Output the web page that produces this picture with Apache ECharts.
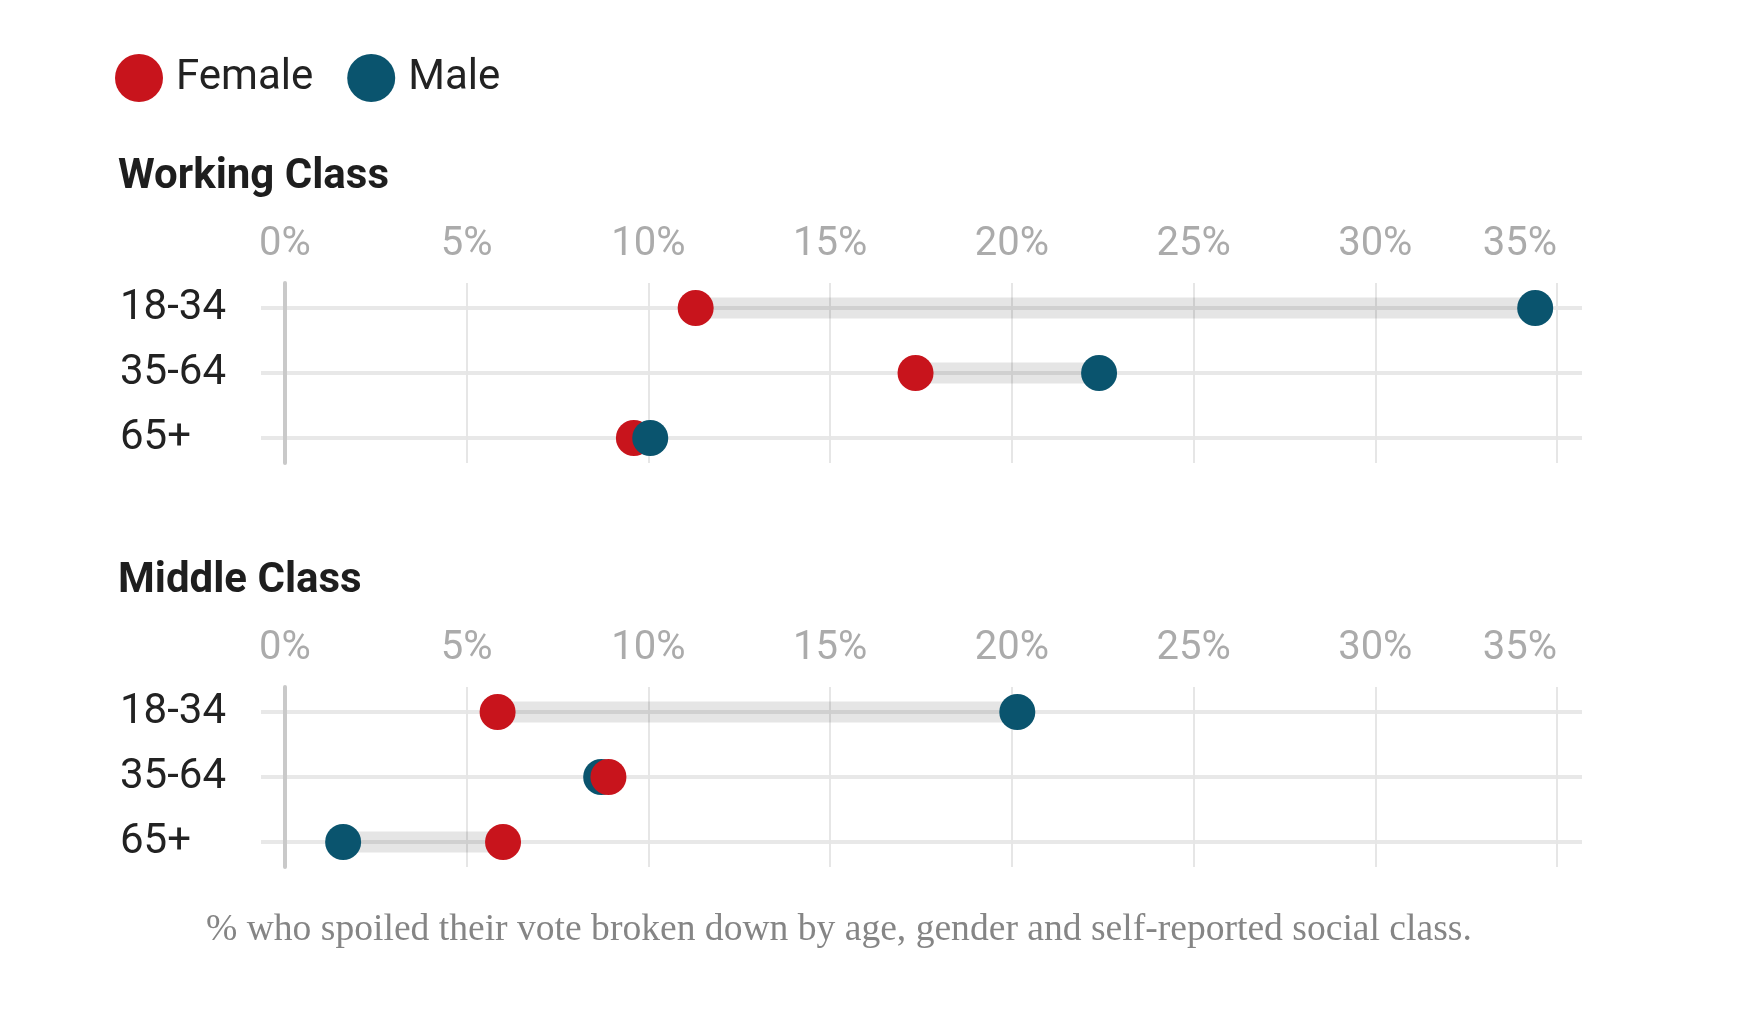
<!DOCTYPE html>
<html>
<head>
<meta charset="utf-8">
<script src="https://cdn.jsdelivr.net/npm/echarts@6/dist/echarts.min.js"></script>
<style>
html,body{margin:0;padding:0;background:#fff;}
#c{width:1748px;height:1024px;}
</style>
</head>
<body>
<div id="c"></div>
<script>
// ---- data ----
var categories = ['18-34', '35-64', '65+'];
var workingFemale = [11.3, 17.35, 9.6];
var workingMale = [34.4, 22.4, 10.05];
var middleFemale = [5.85, 8.9, 6.0];
var middleMale = [20.15, 8.7, 1.6];
var panelTitles = ['Working Class', 'Middle Class'];
var caption = '% who spoiled their vote broken down by age, gender and self-reported social class.';

var RED = '#c8141c';
var TEAL = '#0a546e';
var FONT = 'Roboto';

var chart = echarts.init(document.getElementById('c'));

var panels = [
  {title: panelTitles[0], female: workingFemale, male: workingMale, top: 283, maleOnTop: true},
  {title: panelTitles[1], female: middleFemale, male: middleMale, top: 687, maleOnTop: false}
];

var grids = [], xAxes = [], yAxes = [], series = [], titles = [];

panels.forEach(function (p, k) {
  // grid with vertical lines + top tick labels
  grids.push({left: 285, right: 191, top: p.top, height: 180});
  // grid with category rows
  grids.push({left: 261, right: 166, top: p.top + 25, height: 130});
  var gV = k * 2, gH = k * 2 + 1;

  xAxes.push({
    gridIndex: gV, type: 'value', min: 0, max: 35, interval: 5, position: 'top',
    axisLine: {show: false}, axisTick: {show: false},
    axisLabel: {formatter: '{value}%', color: '#ababab', fontSize: 40, fontFamily: FONT, margin: 18, alignMaxLabel: 'right'},
    splitLine: {show: true, lineStyle: {color: '#e6e6e6', width: 2}}
  });
  yAxes.push({
    gridIndex: gV, type: 'value', min: 0, max: 1, position: 'left',
    axisLine: {show: true, lineStyle: {color: '#c9c9c9', width: 4}},
    axisTick: {show: false}, axisLabel: {show: false}, splitLine: {show: false}
  });
  xAxes.push({
    gridIndex: gH, type: 'value', min: -0.660, max: 35.688, show: false,
    splitLine: {show: false}
  });
  yAxes.push({
    gridIndex: gH, type: 'category', data: categories, inverse: true, boundaryGap: false,
    axisLine: {show: false}, axisTick: {show: false},
    axisLabel: {align: 'left', margin: 141, color: '#222', fontSize: 42, fontFamily: FONT, padding: [10, 0, 0, 0]},
    splitLine: {show: true, lineStyle: {color: '#e8e8e8', width: 4}}
  });

  var xi = k * 2 + 1, yi = k * 2 + 1;
  series.push({
    type: 'custom', xAxisIndex: xi, yAxisIndex: yi, z: 2, silent: true,
    data: categories.map(function (c, i) { return [p.female[i], p.male[i], i]; }),
    encode: {x: [0, 1], y: 2},
    renderItem: function (params, api) {
      var a = api.coord([api.value(0), api.value(2)]);
      var b = api.coord([api.value(1), api.value(2)]);
      return {
        type: 'line',
        shape: {x1: a[0], y1: a[1], x2: b[0], y2: b[1]},
        style: {stroke: 'rgba(0,0,0,0.1)', lineWidth: 21}
      };
    }
  });
  series.push({
    name: 'Female', type: 'scatter', xAxisIndex: xi, yAxisIndex: yi,
    z: p.maleOnTop ? 3 : 4, symbolSize: 36,
    itemStyle: {color: RED, opacity: 1},
    data: categories.map(function (c, i) { return [p.female[i], c]; })
  });
  series.push({
    name: 'Male', type: 'scatter', xAxisIndex: xi, yAxisIndex: yi,
    z: p.maleOnTop ? 4 : 3, symbolSize: 36,
    itemStyle: {color: TEAL, opacity: 1},
    data: categories.map(function (c, i) { return [p.male[i], c]; })
  });

  titles.push({
    text: p.title, left: 118, top: p.top - 127, padding: 0,
    textStyle: {fontFamily: FONT, fontWeight: 'bold', fontSize: 42, color: '#1e1e1e'}
  });
});

chart.setOption({
  animation: false,
  backgroundColor: '#fff',
  title: titles,
  legend: {
    data: ['Female', 'Male'], left: 115, top: 54, padding: 0,
    icon: 'circle', itemWidth: 48, itemHeight: 48, itemGap: 34,
    textStyle: {fontFamily: FONT, fontSize: 42, color: '#222', padding: [0, 0, 0, 8]},
    selectedMode: false
  },
  grid: grids,
  xAxis: xAxes,
  yAxis: yAxes,
  series: series,
  graphic: [{
    type: 'text', left: 206, top: 911,
    style: {text: caption, fontFamily: 'Liberation Serif', fontSize: 37.6, fill: '#858585'}
  }]
});
</script>
</body>
</html>
